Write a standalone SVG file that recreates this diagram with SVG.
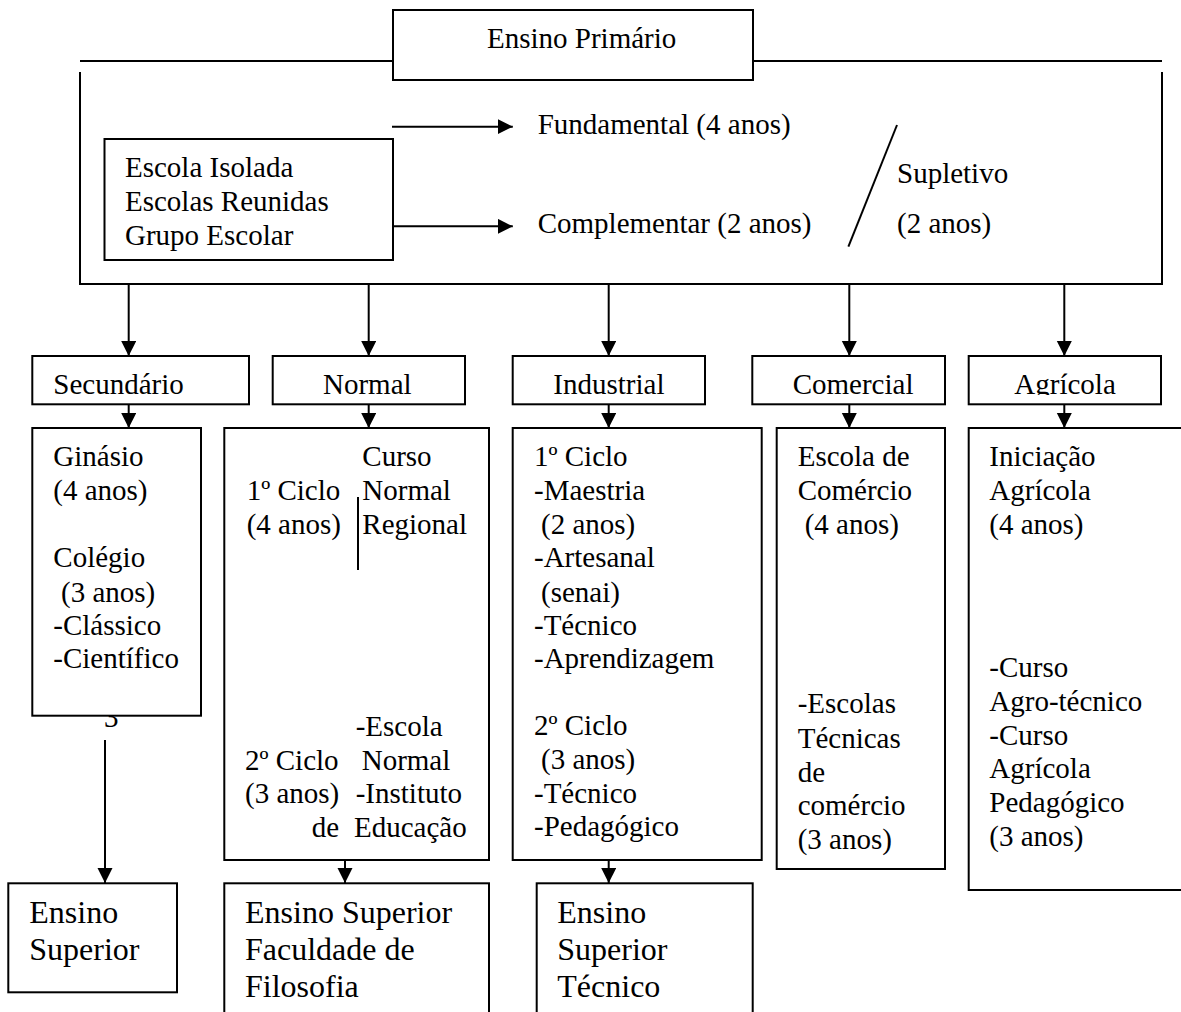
<svg xmlns="http://www.w3.org/2000/svg" width="1181" height="1012" viewBox="0 0 1181 1012" font-family="'Liberation Serif', 'Times New Roman', Tinos, 'DejaVu Serif', serif">
<style>
text{font-family:'Liberation Serif','Times New Roman',Tinos,'DejaVu Serif',serif;font-size:29px;fill:#000}
.big{font-size:32px}
.box{fill:#fff;stroke:#000;stroke-width:2}
.ln{fill:none;stroke:#000;stroke-width:2}
.arr{fill:none;stroke:#000;stroke-width:2;marker-end:url(#ah)}
</style>
<defs>
<marker id="ah" markerUnits="userSpaceOnUse" markerWidth="16" markerHeight="16" refX="15" refY="7.5" orient="auto">
<path d="M0,0 L15,7.5 L0,15 z" fill="#000"/>
</marker>
<clipPath id="agclip"><rect x="968" y="356" width="194" height="39"/></clipPath>
</defs>
<rect width="1181" height="1012" fill="#fff"/>

<g id="connectors">
<path class="ln" d="M80,61 H393 M753,61 H1162 M80,72 V284 H1162 V72"/>
<path class="ln" d="M897,125 L848.4,246.7"/>
<path class="arr" d="M392,126.7 H512.8"/>
<path class="arr" d="M393,226.3 H512.8"/>
<path class="arr" d="M128.7,284 V356"/>
<path class="arr" d="M368.7,284 V356"/>
<path class="arr" d="M608.7,284 V356"/>
<path class="arr" d="M849.3,284 V356"/>
<path class="arr" d="M1064.3,284 V356"/>
<path class="arr" d="M128.7,404 V428"/>
<path class="arr" d="M368.7,404 V428"/>
<path class="arr" d="M608.7,404 V428"/>
<path class="arr" d="M849.3,404 V428"/>
<path class="arr" d="M1064.3,404 V428"/>
<path class="arr" d="M105,740 V883"/>
<path class="arr" d="M345,860 V883"/>
<path class="arr" d="M608.7,860 V883"/>
</g>

<g id="ensino-primario">
<rect class="box" x="393" y="10" width="360" height="70"/>
<text x="487" y="47.7">Ensino Primário</text>
</g>

<g id="escolas">
<rect class="box" x="104.5" y="139" width="288.5" height="121"/>
<text x="125" y="176.7">Escola Isolada</text>
<text x="125" y="210.7">Escolas Reunidas</text>
<text x="125" y="245">Grupo Escolar</text>
</g>

<g id="fundamental"><text x="537.7" y="134">Fundamental (4 anos)</text></g>
<g id="complementar"><text x="537.7" y="233.3">Complementar (2 anos)</text></g>
<g id="supletivo">
<text x="897" y="183.3">Supletivo</text>
<text x="897" y="233.3">(2 anos)</text>
</g>

<g id="secundario">
<rect class="box" x="32.3" y="356" width="216.7" height="48.3"/>
<text x="53.3" y="394">Secundário</text>
</g>
<g id="normal">
<rect class="box" x="272.7" y="356" width="192.3" height="48.3"/>
<text x="323" y="394">Normal</text>
</g>
<g id="industrial">
<rect class="box" x="512.7" y="356" width="192.3" height="48.3"/>
<text x="553.3" y="394">Industrial</text>
</g>
<g id="comercial">
<rect class="box" x="752.3" y="356" width="192.7" height="48.3"/>
<text x="792.7" y="394">Comercial</text>
</g>
<g id="agricola">
<rect class="box" x="968.7" y="356" width="192.3" height="48.3"/>
<text x="1014.3" y="394" clip-path="url(#agclip)">Agrícola</text>
</g>

<g id="secundario-cursos">
<text x="104" y="727">3</text>
<rect class="box" x="32.3" y="428" width="168.7" height="287.7"/>
<text x="53.3" y="465.7">Ginásio</text>
<text x="53.3" y="500">(4 anos)</text>
<text x="53.3" y="566.7">Colégio</text>
<text x="61" y="601.7">(3 anos)</text>
<text x="53.3" y="635">-Clássico</text>
<text x="53.3" y="668.3">-Científico</text>
</g>

<g id="normal-cursos">
<rect class="box" x="224.3" y="428" width="264.7" height="432"/>
<text x="362.3" y="465.7">Curso</text>
<text x="246.7" y="500">1º Ciclo</text>
<text x="362.3" y="500">Normal</text>
<text x="246.7" y="534.3">(4 anos)</text>
<text x="362.3" y="534.3">Regional</text>
<path class="ln" d="M358,497 V570"/>
<text x="355.7" y="736">-Escola</text>
<text x="245" y="770">2º Ciclo</text>
<text x="361.7" y="770">Normal</text>
<text x="245" y="803.3">(3 anos)</text>
<text x="355.7" y="803.3">-Instituto</text>
<text x="311.7" y="836.7">de</text>
<text x="354" y="836.7">Educação</text>
</g>

<g id="industrial-cursos">
<rect class="box" x="512.7" y="428" width="249" height="432"/>
<text x="534" y="465.7">1º Ciclo</text>
<text x="534" y="500">-Maestria</text>
<text x="541" y="534.3">(2 anos)</text>
<text x="534" y="566.7">-Artesanal</text>
<text x="541" y="601.7">(senai)</text>
<text x="534" y="635">-Técnico</text>
<text x="534" y="668.3">-Aprendizagem</text>
<text x="534" y="735">2º Ciclo</text>
<text x="541" y="769.3">(3 anos)</text>
<text x="534" y="802.7">-Técnico</text>
<text x="534" y="836">-Pedagógico</text>
</g>

<g id="comercial-cursos">
<rect class="box" x="776.7" y="428" width="168.3" height="441"/>
<text x="797.7" y="465.7">Escola de</text>
<text x="797.7" y="500">Comércio</text>
<text x="804.7" y="534.3">(4 anos)</text>
<text x="797.7" y="713.3">-Escolas</text>
<text x="797.7" y="747.7">Técnicas</text>
<text x="797.7" y="781.7">de</text>
<text x="797.7" y="815">comércio</text>
<text x="797.7" y="849.3">(3 anos)</text>
</g>

<g id="agricola-cursos">
<rect class="box" x="968.7" y="428" width="220" height="462"/>
<text x="989.3" y="465.7">Iniciação</text>
<text x="989.3" y="500">Agrícola</text>
<text x="989.3" y="534.3">(4 anos)</text>
<text x="989.3" y="677.3">-Curso</text>
<text x="989.3" y="710.7">Agro-técnico</text>
<text x="989.3" y="745">-Curso</text>
<text x="989.3" y="778">Agrícola</text>
<text x="989.3" y="811.7">Pedagógico</text>
<text x="989.3" y="846">(3 anos)</text>
</g>

<g id="ensino-superior">
<rect class="box" x="8.3" y="883.3" width="168.7" height="109"/>
<text class="big" x="29.3" y="923.3">Ensino</text>
<text class="big" x="29.3" y="960">Superior</text>
</g>
<g id="ensino-superior-filosofia">
<rect class="box" x="224.3" y="883.3" width="264.7" height="140"/>
<text class="big" x="245" y="923.3">Ensino Superior</text>
<text class="big" x="245" y="960">Faculdade de</text>
<text class="big" x="245" y="996.7">Filosofia</text>
</g>
<g id="ensino-superior-tecnico">
<rect class="box" x="536.7" y="883.3" width="216" height="140"/>
<text class="big" x="557.3" y="923.3">Ensino</text>
<text class="big" x="557.3" y="960">Superior</text>
<text class="big" x="557.3" y="996.7">Técnico</text>
</g>
</svg>
